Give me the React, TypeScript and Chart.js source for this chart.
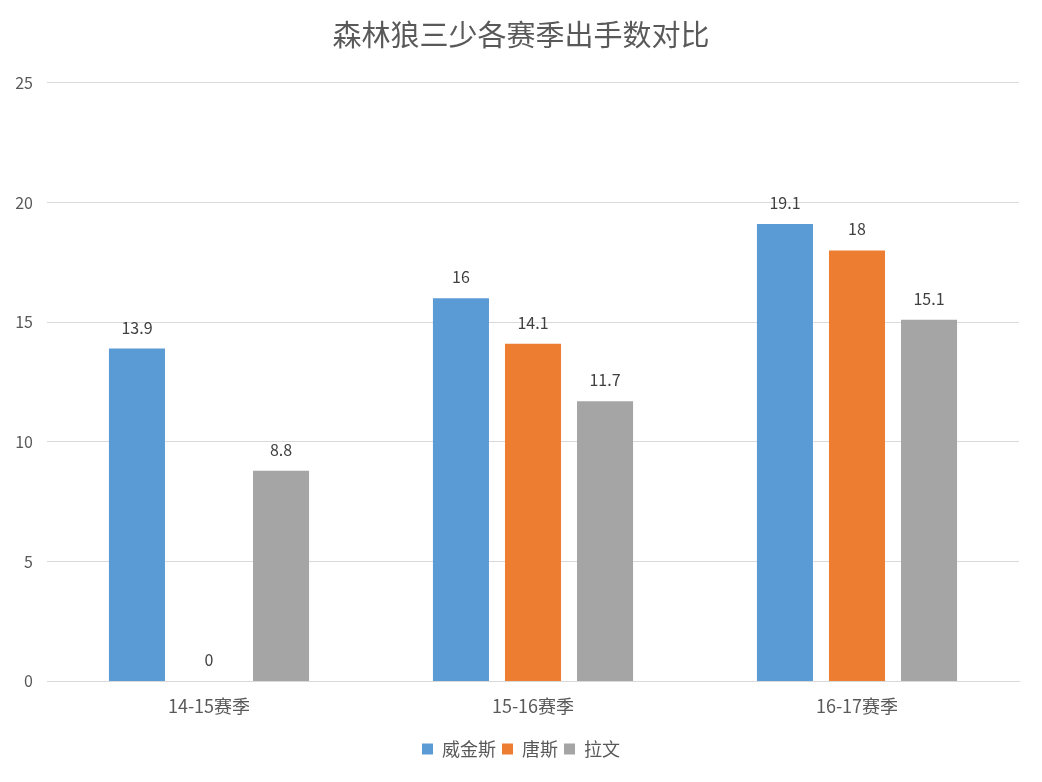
import React, { useEffect, useRef } from "react";
import { Chart, registerables } from "chart.js";

Chart.register(...registerables);

const categories = ["14-15赛季", "15-16赛季", "16-17赛季"];
const wiggins = [13.9, 16, 19.1];
const towns = [0, 14.1, 18];
const lavine = [8.8, 11.7, 15.1];
const seriesNames = ["威金斯", "唐斯", "拉文"];
const colors = ["#5B9BD5", "#ED7D31", "#A5A5A5"];
const titleText = "森林狼三少各赛季出手数对比";

const FONT = "'Noto Sans CJK SC', 'Noto Sans', sans-serif";

const labelPlugin = {
  id: "barLabels",
  afterDatasetsDraw(chart: any) {
    const ctx = chart.ctx;
    ctx.save();
    ctx.font = `16px ${FONT}`;
    ctx.fillStyle = "#404040";
    ctx.textAlign = "center";
    ctx.textBaseline = "bottom";
    chart.data.datasets.forEach((ds: any, i: number) => {
      const meta = chart.getDatasetMeta(i);
      meta.data.forEach((bar: any, j: number) => {
        ctx.fillText(String(ds.data[j]), bar.x, bar.y - 13);
      });
    });
    ctx.restore();
  },
};

export default function App() {
  const ref = useRef<HTMLCanvasElement>(null);
  useEffect(() => {
    if (!ref.current) return;
    const chart = new Chart(ref.current, {
      type: "bar",
      data: {
        labels: categories,
        datasets: [wiggins, towns, lavine].map((d, i) => ({
          label: seriesNames[i],
          data: d,
          backgroundColor: colors[i],
          categoryPercentage: 0.667,
          barPercentage: 0.778,
        })),
      },
      options: {
        animation: false,
        responsive: false,
        layout: { padding: { left: 0, right: 0, top: 0, bottom: 14 } },
        plugins: {
          title: {
            display: true,
            text: titleText,
            color: "#595959",
            font: { size: 29, family: FONT, weight: "normal" },
            padding: { top: 18, bottom: 30 },
          },
          legend: {
            position: "bottom",
            labels: {
              color: "#595959",
              font: { size: 18, family: FONT },
              boxWidth: 11,
              boxHeight: 11,
              padding: 6,
            },
          },
          tooltip: { enabled: false },
        },
        scales: {
          x: {
            grid: { display: false },
            border: { color: "#D9D9D9", width: 1 },
            ticks: { color: "#595959", font: { size: 18, family: FONT }, padding: 6 },
            afterFit(scale: any) {
              scale.height = scale.height + 11;
            },
          },
          y: {
            min: 0,
            max: 25,
            ticks: {
              stepSize: 5,
              color: "#595959",
              font: { size: 16, family: FONT },
              padding: 14,
            },
            grid: { color: "#D9D9D9", drawTicks: false },
            border: { display: false },
            afterFit(scale: any) {
              scale.width = 47;
            },
          },
          yRight: {
            position: "right",
            display: true,
            min: 0,
            max: 25,
            ticks: { display: false },
            grid: { display: false, drawTicks: false },
            border: { display: false },
            afterFit(scale: any) {
              scale.width = 23;
            },
          },
        },
      },
      plugins: [labelPlugin],
    });
    return () => chart.destroy();
  }, []);
  return (
    <div style={{ position: "absolute", left: 0, top: 0, width: 1042, height: 782, background: "#fff" }}>
      <canvas ref={ref} width={1042} height={782} />
    </div>
  );
}
